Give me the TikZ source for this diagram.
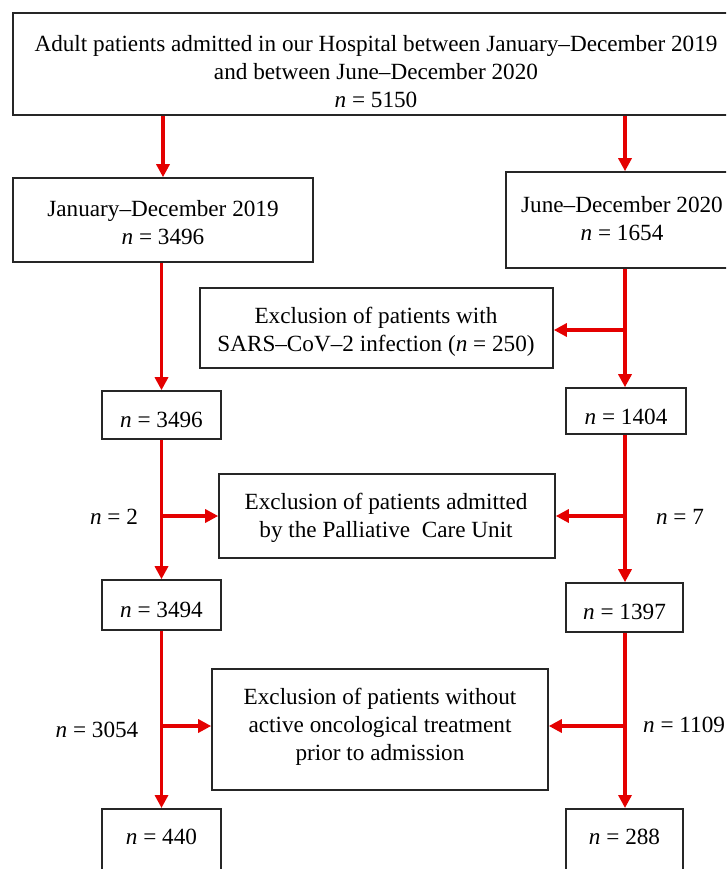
\documentclass[tikz,border=0pt]{standalone}
\usepackage{fontspec}
\setmainfont{Liberation Serif}
\usetikzlibrary{arrows.meta}
\definecolor{arrred}{RGB}{228,0,0}
\begin{document}
\begin{tikzpicture}[x=1pt,y=-1pt,
 frame/.style={draw=black!85, line width=1.6pt, inner sep=0pt},
 txt/.style={align=center, inner sep=0pt, font=\fontsize{23.2}{28}\selectfont},
 arr/.style={draw=arrred, line width=3.2pt, -{Triangle[length=13pt,width=13pt]}},
 lab/.style={font=\fontsize{23.2}{28}\selectfont, inner sep=0pt}]
\useasboundingbox (0,0) rectangle (726,869);
\clip (0,0) rectangle (726,869);
% frames
\node[frame, minimum width=722, minimum height=102] (top) at (374,64) {};
\node[frame, minimum width=300, minimum height=84] (jan) at (163,220) {};
\node[frame, minimum width=232, minimum height=96] (jun) at (622,220) {};
\node[frame, minimum width=353, minimum height=80] (exc1) at (376.5,328) {};
\node[frame, minimum width=119, minimum height=48] (l1) at (161.5,415) {};
\node[frame, minimum width=120, minimum height=46] (r1) at (626,411) {};
\node[frame, minimum width=336, minimum height=84] (exc2) at (387,516) {};
\node[frame, minimum width=119, minimum height=50] (l2) at (161.5,605) {};
\node[frame, minimum width=117, minimum height=49] (r2) at (624.5,607.5) {};
\node[frame, minimum width=336, minimum height=121] (exc3) at (380,729.5) {};
\node[frame, anchor=north, minimum width=119, minimum height=90] (l3) at (161.5,808) {};
\node[frame, anchor=north, minimum width=117, minimum height=90] (r3) at (624.5,808) {};
% texts
\node[txt] (topt) at (376,72)
 {Adult patients admitted in our Hospital between January–December 2019\\and between June–December 2020\\\textit{n} = 5150};
\node[txt] (jant) at (163,223) {January–December 2019\\\textit{n} = 3496};
\node[txt] (junt) at (622,219) {June–December 2020\\\textit{n} = 1654};
\node[txt] (exc1t) at (376,332) {Exclusion of patients with\\SARS–CoV–2 infection (\textit{n} = 250)};
\node[txt] (l1t) at (161.5,420) {\textit{n} = 3496};
\node[txt] (r1t) at (626,417) {\textit{n} = 1404};
\node[txt] (exc2t) at (386,518) {Exclusion of patients admitted\\by the Palliative~ Care Unit};
\node[txt] (l2t) at (161.5,610) {\textit{n} = 3494};
\node[txt] (r2t) at (624.5,612) {\textit{n} = 1397};
\node[txt] (exc3t) at (380,727) {Exclusion of patients without\\active oncological treatment\\prior to admission};
\node[txt] (l3t) at (161.5,837) {\textit{n} = 440};
\node[txt] (r3t) at (624.5,837) {\textit{n} = 288};
% side labels
\node[lab] (n2) at (114,517) {\textit{n} = 2};
\node[lab] (n7) at (680,517) {\textit{n} = 7};
\node[lab] (n3054) at (97,730) {\textit{n} = 3054};
\node[lab, anchor=west] (n1109) at (643,725) {\textit{n} = 1109};
% main flow
\coordinate (xR) at (625,0);
\draw[arr] (top.south -| jan) -- (jan.north);
\draw[arr] (top.south -| xR) -- (jun.north -| xR);
\draw[arr] (jan.south -| l1) -- (l1.north);
\draw[arr] (jun.south -| xR) -- (r1.north -| xR);
\draw[arr] (l1.south) -- (l2.north);
\draw[arr] (r1.south -| xR) -- (r2.north -| xR);
\draw[arr] (l2.south) -- (l3.north);
\draw[arr] (r2.south -| xR) -- (r3.north -| xR);
% exclusion branches
\coordinate (bR1) at (625,330);
\draw[arr] (bR1) -- (bR1 -| exc1.east);
\coordinate (bL2) at (161.5,516);
\coordinate (bR2) at (625,516);
\draw[arr] (bL2) -- (exc2.west);
\draw[arr] (bR2) -- (exc2.east);
\coordinate (bL3) at (161.5,726);
\coordinate (bR3) at (625,726);
\draw[arr] (bL3) -- (bL3 -| exc3.west);
\draw[arr] (bR3) -- (bR3 -| exc3.east);
\end{tikzpicture}
\end{document}
